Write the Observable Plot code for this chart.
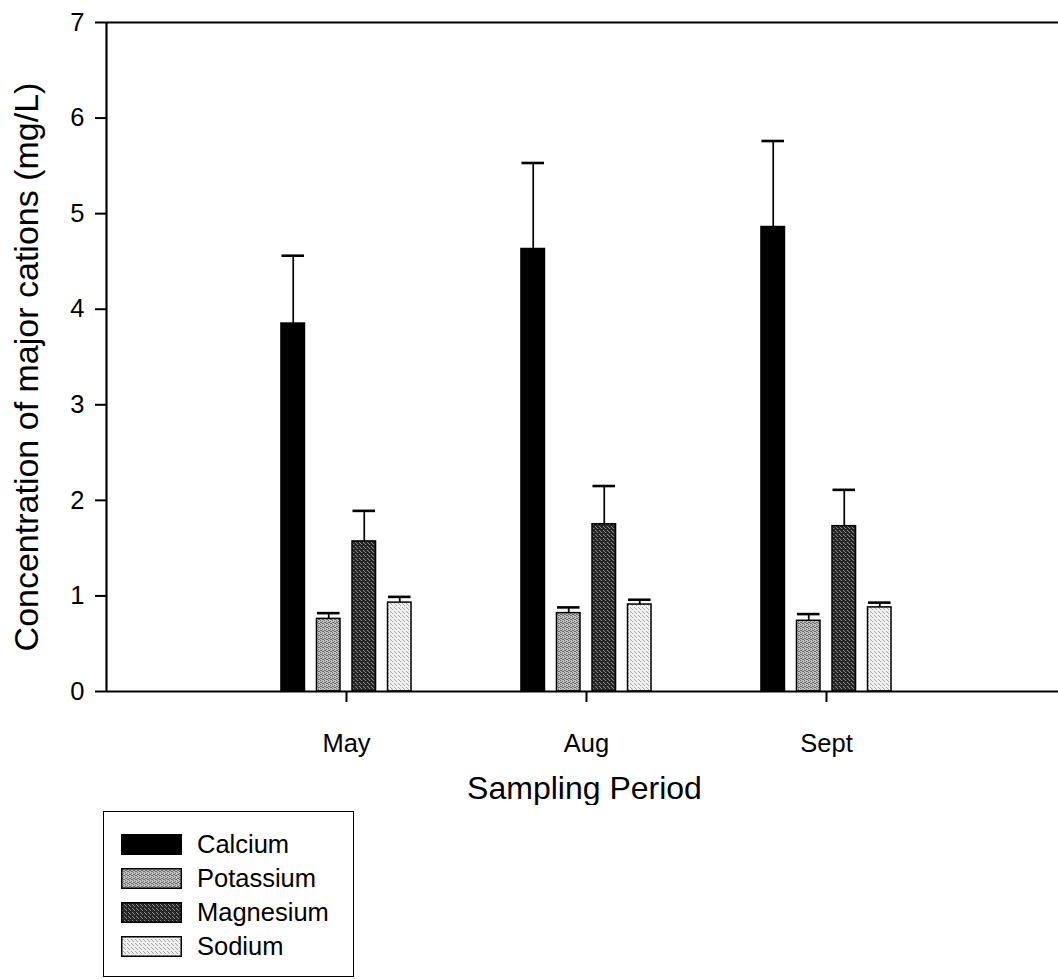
<!DOCTYPE html>
<html><head><meta charset="utf-8">
<script src="https://cdn.jsdelivr.net/npm/d3@7"></script>
<script src="https://cdn.jsdelivr.net/npm/@observablehq/plot@0.6"></script>
<style>
body{margin:0;background:#fff;font-family:"Liberation Sans",Arial,sans-serif;overflow:hidden}
#chart{position:absolute;left:0;top:0}
#chart svg g[aria-label$="tick"] path, #chart svg .tick line{stroke-width:2px}
#legend{position:absolute;left:103px;top:811px;width:251px;height:166px;border:1.5px solid #000;box-sizing:border-box;padding-top:15px}
.row{display:flex;align-items:center;height:34px;padding-left:17px}
.sw{width:61px;height:21px;margin-right:15px;display:block}
.lab{font-size:25.5px;color:#000;line-height:34px}
</style></head><body>
<div id="chart"></div>
<div id="legend"></div>
<script>
const months = ["May", "Aug", "Sept"];
const ions = ["Calcium", "Potassium", "Magnesium", "Sodium"];
const calcium = [3.85, 4.63, 4.86];
const calciumErr = [0.71, 0.90, 0.90];
const potassium = [0.76, 0.82, 0.74];
const potassiumErr = [0.06, 0.06, 0.07];
const magnesium = [1.57, 1.75, 1.73];
const magnesiumErr = [0.32, 0.40, 0.38];
const sodium = [0.93, 0.91, 0.88];
const sodiumErr = [0.06, 0.05, 0.05];
const yTicks = [0, 1, 2, 3, 4, 5, 6, 7];
const fills = ["#000000", "url(#pat-k)", "url(#pat-mg)", "url(#pat-na)"];

// stipple textures: [base colour, dot colour, dot cells in a 4x4 tile]
const textures = {
  "pat-k": ["#c2c2c2", "#6a6a6a", [[0,0],[2,1],[1,2],[3,3],[2,3],[0,2]]],
  "pat-mg": ["#262626", "#8c8c8c", [[1,0],[3,2],[0,3]]],
  "pat-na": ["#efefef", "#a6a6a6", [[0,1],[2,3],[3,0]]]
};

const series = [[calcium, calciumErr], [potassium, potassiumErr], [magnesium, magnesiumErr], [sodium, sodiumErr]];
const pitch = 0.148, bw = 0.098, capW = 0.094;
const rows = [];
ions.forEach((ion, i) => {
  months.forEach((m, j) => {
    rows.push({ion, month: m, value: series[i][0][j], err: series[i][1][j], pos: (j + 1) + (i - 1.5) * pitch});
  });
});

const chart = Plot.plot({
  width: 1058, height: 805,
  marginLeft: 106, marginRight: 0, marginTop: 22, marginBottom: 114,
  style: {fontFamily: "'Liberation Sans', Arial, sans-serif", fontSize: "25.5px", background: "white", color: "black"},
  x: {domain: [0, 4], range: [106, 1066], ticks: [1, 2, 3], tickFormat: d => months[d - 1], tickSize: 11, tickPadding: 31, label: null},
  y: {domain: [0, 7], ticks: yTicks, tickFormat: d => String(d), tickSize: 11, tickPadding: 11, label: null},
  color: {domain: ions, range: fills},
  marks: [
    Plot.rectY(rows, {x1: d => d.pos - bw / 2, x2: d => d.pos + bw / 2, y1: 0, y2: "value", fill: "ion", stroke: "black", strokeWidth: 1.5}),
    Plot.ruleX(rows, {x: "pos", y1: "value", y2: d => d.value + d.err, strokeWidth: 1.7}),
    Plot.ruleY(rows, {y: d => d.value + d.err, x1: d => d.pos - capW / 2, x2: d => d.pos + capW / 2, strokeWidth: 2.6}),
    Plot.ruleY([0], {strokeWidth: 2.2}),
    Plot.ruleY([7], {strokeWidth: 2.2}),
    Plot.ruleX([0], {y1: 0, y2: 7, strokeWidth: 2.2}),
    Plot.text(["Sampling Period"], {text: d => d, frameAnchor: "bottom", textAnchor: "middle", lineAnchor: "top", dx: 2, dy: 85, fontSize: 32}),
    Plot.text(["Concentration of major cations (mg/L)"], {text: d => d, frameAnchor: "left", rotate: -90, textAnchor: "middle", lineAnchor: "middle", dx: -79, dy: 10, fontSize: 34})
  ]
});

const NS = "http://www.w3.org/2000/svg";
const defs = document.createElementNS(NS, "defs");
for (const [id, [base, dot, cells]] of Object.entries(textures)) {
  const p = document.createElementNS(NS, "pattern");
  p.setAttribute("id", id);
  p.setAttribute("patternUnits", "userSpaceOnUse");
  p.setAttribute("width", 4); p.setAttribute("height", 4);
  const r = document.createElementNS(NS, "rect");
  r.setAttribute("width", 4); r.setAttribute("height", 4); r.setAttribute("fill", base);
  p.appendChild(r);
  for (const [cx, cy] of cells) {
    const d = document.createElementNS(NS, "rect");
    d.setAttribute("x", cx); d.setAttribute("y", cy);
    d.setAttribute("width", 1); d.setAttribute("height", 1); d.setAttribute("fill", dot);
    p.appendChild(d);
  }
  defs.appendChild(p);
}
chart.insertBefore(defs, chart.firstChild);
document.getElementById("chart").appendChild(chart);

const legend = document.getElementById("legend");
ions.forEach((ion, i) => {
  const row = document.createElement("div");
  row.className = "row";
  const sw = document.createElementNS(NS, "svg");
  sw.setAttribute("class", "sw");
  sw.setAttribute("width", 61); sw.setAttribute("height", 21);
  const rect = document.createElementNS(NS, "rect");
  rect.setAttribute("x", 0.75); rect.setAttribute("y", 0.75);
  rect.setAttribute("width", 59.5); rect.setAttribute("height", 19.5);
  rect.setAttribute("fill", fills[i]); rect.setAttribute("stroke", "#000"); rect.setAttribute("stroke-width", 1.5);
  sw.appendChild(rect);
  const lab = document.createElement("span");
  lab.className = "lab";
  lab.textContent = ion;
  row.appendChild(sw); row.appendChild(lab);
  legend.appendChild(row);
});
</script>
</body></html>
